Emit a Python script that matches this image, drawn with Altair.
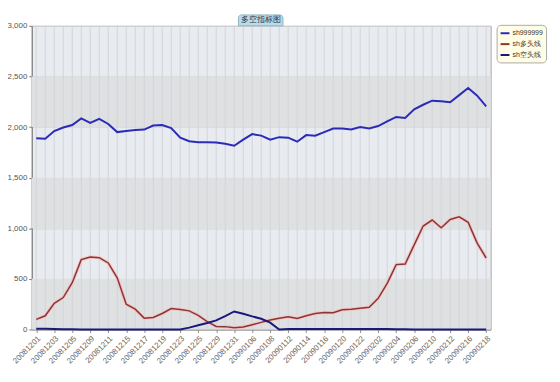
import altair as alt
import pandas as pd

dates = ["20081201","20081202","20081203","20081204","20081205","20081208","20081209","20081210",
         "20081211","20081212","20081215","20081216","20081217","20081218","20081219","20081222",
         "20081223","20081224","20081225","20081226","20081229","20081230","20081231","20090105",
         "20090106","20090107","20090108","20090109","20090112","20090113","20090114","20090115",
         "20090116","20090119","20090120","20090121","20090122","20090123","20090202","20090203",
         "20090204","20090205","20090206","20090209","20090210","20090211","20090212","20090213",
         "20090216","20090217","20090218"]

sh999999 = [1890,1885,1960,1995,2020,2085,2040,2080,2030,1950,1960,1970,1975,2015,2020,1990,1895,
            1860,1850,1850,1848,1835,1815,1875,1930,1915,1875,1900,1895,1855,1920,1915,1950,1985,
            1985,1975,2000,1985,2010,2055,2100,2090,2175,2220,2260,2255,2245,2315,2385,2310,2205]

duotou = [100,135,259,315,462,690,716,709,657,510,249,200,112,119,158,207,198,184,140,78,30,28,
          17,25,47,70,93,110,125,108,135,158,168,165,194,200,210,220,308,455,641,647,836,1022,
          1081,1005,1087,1113,1058,853,706]

kongtou = [8,6,5,3,2,0,0,0,0,0,0,0,0,0,0,0,0,18,41,64,90,132,178,155,129,106,67,0,5,5,5,5,5,
           4,4,4,4,4,4,4,3,3,0,0,0,0,0,0,0,0,0]

series_names = ["sh999999", "sh多头线", "sh空头线"]
series_colors = ["#2b2bb8", "#8b3535", "#1a1a7a"]
series_widths = [2, 1.5, 2]
y_ticks = [0, 500, 1000, 1500, 2000, 2500, 3000]
dark_bands_lo = [0, 1000, 2000]
dark_bands_hi = [500, 1500, 2500]
title_text = "多空指标图"

W, H = 464, 307

rows = []
for name, vals, sw in zip(series_names, [sh999999, duotou, kongtou], series_widths):
    for d, v in zip(dates, vals):
        rows.append({"date": d, "series": name, "value": v, "sw": sw})
df = pd.DataFrame(rows)

bands = pd.DataFrame({"lo": dark_bands_lo, "hi": dark_bands_hi})
grid_df = pd.DataFrame({"date": dates})

xscale = alt.Scale(type="point", padding=0.5, domain=dates)
yscale = alt.Scale(domain=[0, 3000], nice=False)

band_layer = alt.Chart(bands).mark_rect(color="#dfe0e2").encode(
    x=alt.value(0), x2=alt.value(W),
    y=alt.Y("lo:Q", scale=yscale, axis=alt.Axis(values=y_ticks, format=",.0f", title=None,
            labelFontSize=8, labelColor="#555", domainColor="#777", tickColor="#777",
            tickSize=3, labelPadding=2, grid=True, gridColor="#d6d6d8", labelFont="Arial")),
    y2="hi:Q",
)

vgrid = alt.Chart(grid_df).mark_rule(color="#d2d5da", strokeWidth=1).encode(
    x=alt.X("date:O", scale=xscale, sort=dates,
            axis=alt.Axis(values=dates[::2], labelAngle=-45, title=None, labelFontSize=8,
                          labelColor="#666", domainColor="#888", tickColor="#888", tickSize=3,
                          labelFont="Arial", grid=False, labelPadding=2)),
)

halo = alt.Chart(df).transform_filter(alt.datum.series == "sh多头线").mark_line(
    color="#f3c6c6", strokeWidth=3.5).encode(
    x=alt.X("date:O", scale=xscale, sort=dates),
    y=alt.Y("value:Q", scale=yscale),
)

lines = alt.Chart(df).mark_line().encode(
    x=alt.X("date:O", scale=xscale, sort=dates),
    y=alt.Y("value:Q", scale=yscale),
    strokeWidth=alt.StrokeWidth("sw:Q", scale=None, legend=None),
    color=alt.Color("series:N", scale=alt.Scale(domain=series_names, range=series_colors),
                    sort=series_names,
                    legend=alt.Legend(title=None, orient="none", legendX=470, legendY=-1,
                                      fillColor="#fffde6", strokeColor="#aaa", cornerRadius=4,
                                      padding=3, labelFontSize=7, labelColor="#333",
                                      labelOffset=2, symbolType="stroke", symbolStrokeWidth=2,
                                      symbolSize=81, rowPadding=1, labelFont="Arial")),
)

tab = alt.Chart(pd.DataFrame({"t": [title_text]})).mark_rect(
    color="#b9dde6", stroke="#8fb5c0", strokeWidth=1, cornerRadiusTopLeft=3,
    cornerRadiusTopRight=3).encode(
    x=alt.value(209), x2=alt.value(254), y=alt.value(-11), y2=alt.value(0))

tab_text = alt.Chart(pd.DataFrame({"t": [title_text]})).mark_text(
    fontSize=8, color="#335", baseline="middle", align="center").encode(
    text="t:N", x=alt.value(231.5), y=alt.value(-5.5))

chart = alt.layer(band_layer, vgrid, halo, lines, tab, tab_text).properties(
    width=W, height=H,
    autosize=alt.AutoSizeParams(type="none"),
    padding={"left": 24, "top": 16, "right": 62, "bottom": 42},
).configure_view(fill="#e8ebef", stroke="#aaa", strokeWidth=1)

chart.save("out.html", embed_options={"renderer": "svg", "actions": False})
